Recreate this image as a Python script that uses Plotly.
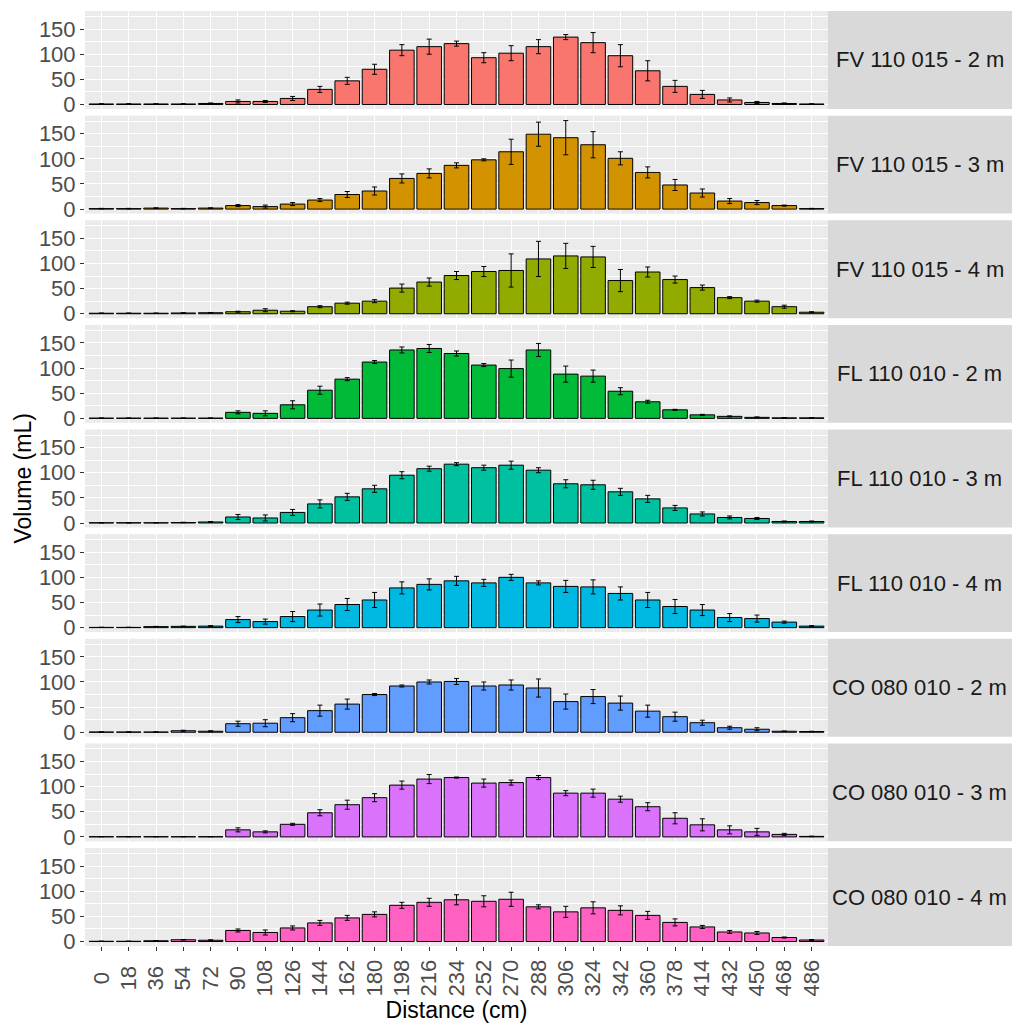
import plotly.graph_objects as go
from plotly.subplots import make_subplots

distances = [0, 18, 36, 54, 72, 90, 108, 126, 144, 162, 180, 198, 216, 234, 252,
             270, 288, 306, 324, 342, 360, 378, 414, 432, 450, 468, 486]
categories = [str(d) for d in distances]

panel_labels = ["FV 110 015 - 2 m", "FV 110 015 - 3 m", "FV 110 015 - 4 m",
                "FL 110 010 - 2 m", "FL 110 010 - 3 m", "FL 110 010 - 4 m",
                "CO 080 010 - 2 m", "CO 080 010 - 3 m", "CO 080 010 - 4 m"]

colors = ["#F8766D", "#D39200", "#93AA00", "#00BA38", "#00C19F",
          "#00B9E3", "#619CFF", "#DB72FB", "#FF61C3"]

fv2_mean = [1, 1, 1, 1, 2, 6, 6, 12, 30, 47, 70, 108, 115, 121, 93, 102, 115, 134, 123, 97, 67, 36, 20, 9, 4, 2, 1]
fv2_err = [0.5, 0.5, 0.5, 0.5, 1, 3, 2, 4, 6, 7, 10, 11, 15, 5, 10, 15, 14, 5, 20, 22, 20, 12, 8, 4, 2, 1, 0.5]

fv3_mean = [1, 1, 2, 1, 2, 7, 5, 10, 18, 29, 36, 61, 71, 87, 98, 114, 149, 142, 128, 101, 73, 48, 32, 16, 13, 7, 1]
fv3_err = [0.5, 0.5, 0.5, 0.5, 0.5, 2, 3, 3, 3, 6, 8, 9, 9, 5, 2, 25, 24, 34, 26, 13, 11, 11, 8, 5, 4, 1, 0.5]

fv4_mean = [1, 1, 1, 1.5, 2, 4, 7, 5, 14, 21, 25, 51, 63, 76, 84, 86, 109, 115, 113, 66, 83, 68, 52, 32, 25, 14, 3]
fv4_err = [0.5, 0.5, 0.5, 0.5, 0.5, 1, 3, 1, 2, 2, 3, 8, 8, 8, 10, 33, 35, 25, 21, 22, 10, 7, 5, 2, 2, 3, 1]

fl2_mean = [0.5, 0.5, 0.5, 0.5, 0.5, 12, 10, 27, 56, 78, 112, 136, 139, 129, 106, 99, 136, 88, 84, 54, 33, 17, 7, 4, 2, 1, 1]
fl2_err = [0.3, 0.3, 0.3, 0.3, 0.3, 3, 5, 8, 8, 3, 3, 6, 8, 5, 3, 17, 13, 16, 12, 7, 3, 1, 1, 1, 1, 0.5, 0.5]

fl3_mean = [0.5, 0.5, 0.5, 1, 2, 12, 10, 21, 38, 52, 68, 95, 108, 117, 110, 115, 105, 78, 76, 62, 48, 30, 18, 11, 9, 3, 3]
fl3_err = [0.3, 0.3, 0.3, 0.5, 1, 5, 6, 6, 8, 7, 7, 7, 5, 3, 5, 8, 5, 8, 9, 7, 7, 5, 4, 3, 2, 1, 1]

fl4_mean = [0.5, 0.5, 2, 2.5, 3, 16, 12, 22, 35, 46, 55, 79, 86, 93, 89, 100, 89, 82, 81, 68, 55, 42, 35, 20, 18, 11, 3]
fl4_err = [0.3, 0.3, 0.5, 0.5, 1, 6, 5, 10, 12, 12, 15, 12, 11, 9, 7, 6, 4, 12, 14, 13, 15, 14, 11, 8, 7, 2, 1]

co2_mean = [0.5, 0.5, 0.5, 3, 2, 17, 18, 29, 43, 56, 75, 92, 100, 101, 92, 94, 88, 61, 71, 58, 42, 31, 19, 9, 6, 2, 1.5]
co2_err = [0.3, 0.3, 0.3, 1, 1, 5, 7, 8, 11, 10, 2, 2, 4, 6, 8, 10, 18, 15, 14, 14, 12, 9, 5, 3, 3, 0.5, 0.5]

co3_mean = [0.5, 0.5, 0.5, 0.5, 0.5, 14, 10, 25, 48, 64, 78, 103, 115, 118, 107, 108, 118, 87, 87, 75, 60, 37, 24, 14, 10, 5, 1]
co3_err = [0.3, 0.3, 0.3, 0.3, 0.3, 4, 2, 2, 6, 9, 8, 8, 9, 1, 8, 5, 4, 5, 8, 6, 8, 11, 12, 8, 7, 2, 0.5]

co4_mean = [0.5, 0.5, 1.5, 3.5, 2.5, 22, 18, 27, 37, 47, 54, 72, 78, 83, 80, 84, 69, 59, 67, 62, 52, 38, 29, 19, 17, 8, 3]
co4_err = [0.3, 0.3, 0.5, 0.5, 1, 3, 5, 4, 5, 5, 5, 6, 8, 10, 11, 14, 4, 11, 12, 9, 8, 7, 3, 3, 3, 1, 1]

means = [fv2_mean, fv3_mean, fv4_mean, fl2_mean, fl3_mean, fl4_mean, co2_mean, co3_mean, co4_mean]
errs = [fv2_err, fv3_err, fv4_err, fl2_err, fl3_err, fl4_err, co2_err, co3_err, co4_err]

FONT = "Liberation Sans, Arial, sans-serif"

# centre the rotated tick labels (ggplot hjust = 0.5) by padding with no-break spaces
# (a no-break space is about half a digit wide)
def centred(label, maxlen=3):
    pad = maxlen - len(label)
    side = "\u00a0" * pad
    return side + label + side

tick_text = [centred(c) for c in categories]

n = len(panel_labels)
fig = make_subplots(rows=n, cols=1, shared_xaxes=True, vertical_spacing=0.00714)

for i in range(n):
    fig.add_trace(go.Bar(
        x=categories, y=means[i],
        marker=dict(color=colors[i], line=dict(color="black", width=1)),
        error_y=dict(type="data", array=errs[i], visible=True,
                     color="black", thickness=1, width=2.5),
        showlegend=False, hoverinfo="x+y"),
        row=i + 1, col=1)

fig.update_layout(
    width=1012, height=1026,
    margin=dict(l=85, r=184, t=11, b=70),
    paper_bgcolor="white",
    plot_bgcolor="#EBEBEB",
    bargap=0.1,
    font=dict(family=FONT, color="black"),
)

for i in range(n):
    fig.update_yaxes(
        row=i + 1, col=1,
        range=[-8.9, 185.9],
        tickvals=[0, 50, 100, 150],
        ticks="outside", ticklen=4, tickcolor="#333333", tickwidth=1,
        tickfont=dict(family=FONT, size=22, color="#4D4D4D"),
        showgrid=True, gridcolor="white", gridwidth=1.2,
        minor=dict(tickvals=[25, 75, 125, 175], showgrid=True,
                   gridcolor="white", gridwidth=0.5, ticks=""),
        zeroline=False, showline=False,
    )
    fig.update_xaxes(
        row=i + 1, col=1,
        type="category",
        categoryorder="array", categoryarray=categories,
        range=[-0.6, len(categories) - 0.4],
        showgrid=True, gridcolor="white", gridwidth=1.2,
        zeroline=False, showline=False,
        ticks="outside" if i == n - 1 else "",
        ticklen=4, tickcolor="#333333", tickwidth=1,
        showticklabels=(i == n - 1),
        tickmode="array", tickvals=categories, ticktext=tick_text,
        tickangle=-90,
        tickfont=dict(family=FONT, size=22, color="#4D4D4D"),
    )

fig.update_xaxes(row=n, col=1,
                 title=dict(text="Distance (cm)", standoff=2,
                            font=dict(family=FONT, size=23, color="black")))

# Strips on the right
plot_w = 1012 - 85 - 184
x_end = (1012 - 85) / plot_w
x_mid = (1 + x_end) / 2
for i in range(n):
    yref = "y domain" if i == 0 else f"y{i + 1} domain"
    fig.add_shape(type="rect", xref="paper", yref=yref,
                  x0=1.0, x1=x_end, y0=0, y1=1,
                  fillcolor="#D9D9D9", line=dict(width=0), layer="below")
    fig.add_annotation(text=panel_labels[i], xref="paper", yref=yref,
                       x=x_mid, y=0.5, showarrow=False,
                       xanchor="center", yanchor="middle",
                       font=dict(family=FONT, size=22, color="#1A1A1A"))

# Y axis title
fig.add_annotation(text="Volume (mL)", xref="paper", yref="paper",
                   x=-(85 - 22) / plot_w, y=0.5, textangle=-90,
                   showarrow=False, xanchor="center", yanchor="middle",
                   font=dict(family=FONT, size=23, color="black"))

fig.write_html("out.html",
               config={"displayModeBar": False},
               post_script="document.body.style.margin='0';document.body.style.overflow='hidden';")
